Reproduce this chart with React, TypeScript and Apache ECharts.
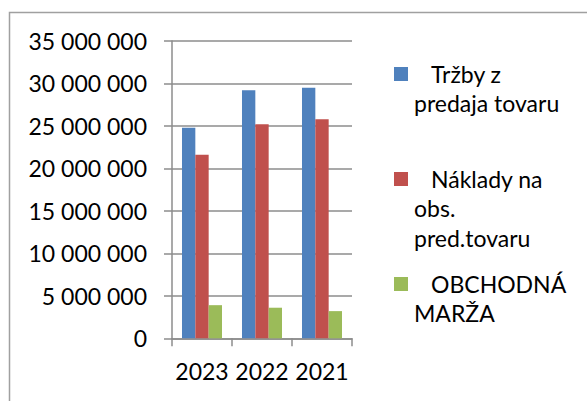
import React, { useEffect, useRef } from 'react';
import * as echarts from 'echarts';

const categories = ['2023', '2022', '2021'];
const seriesNames = ['Tržby z predaja tovaru', 'Náklady na obs. pred.tovaru', 'OBCHODNÁ MARŽA'];
const legendLines = [
  ['Tržby z', 'predaja tovaru'],
  ['Náklady na', 'obs.', 'pred.tovaru'],
  ['OBCHODNÁ', 'MARŽA'],
];
const trzby = [24800000, 29200000, 29500000];
const naklady = [21600000, 25200000, 25800000];
const marza = [3900000, 3600000, 3200000];
const yMin = 0;
const yMax = 35000000;
const yStep = 5000000;

const colors = ['#4F81BD', '#C0504D', '#9BBB59'];
const FONT = 'Lato, "Open Sans", sans-serif';

const fmt = (v: number) => String(v).replace(/\B(?=(\d{3})+(?!\d))/g, ' ');

export default function App() {
  const ref = useRef<HTMLDivElement>(null);
  useEffect(() => {
    if (!ref.current) return;
    const chart = echarts.init(ref.current, null, { renderer: 'svg' });
    const seriesData = [trzby, naklady, marza];

    const legendFirstY = [74, 179, 284];
    const lineH = 29.3;
    const legendEls: any[] = [];
    legendLines.forEach((lines, i) => {
      legendEls.push({
        type: 'rect',
        shape: { x: 394, y: legendFirstY[i] - 7, width: 14, height: 14 },
        style: { fill: colors[i] },
      });
      lines.forEach((ln, j) => {
        legendEls.push({
          type: 'text',
          x: j === 0 ? 431 : 414,
          y: legendFirstY[i] + j * lineH,
          style: {
            text: ln,
            font: `23px ${FONT}`,
            fill: '#000',
            textAlign: 'left',
            textVerticalAlign: 'middle',
            verticalAlign: 'middle',
          },
        });
      });
    });

    chart.setOption({
      animation: false,
      backgroundColor: '#fff',
      grid: { left: 172, top: 41, width: 180, height: 297.3 },
      xAxis: {
        type: 'category',
        data: categories,
        axisLine: { lineStyle: { color: '#8c8c8c', width: 1.5 } },
        axisTick: { show: true, length: 8, lineStyle: { color: '#8c8c8c', width: 1.5 } },
        axisLabel: { color: '#000', fontFamily: FONT, fontSize: 23, margin: 21, interval: 0, hideOverlap: false },
        splitLine: { show: false },
      },
      yAxis: {
        type: 'value',
        min: yMin,
        max: yMax,
        interval: yStep,
        axisLine: { show: true, lineStyle: { color: '#8c8c8c', width: 1.5 } },
        axisTick: { show: true, length: 8, lineStyle: { color: '#8c8c8c', width: 1.5 } },
        axisLabel: { color: '#000', fontFamily: FONT, fontSize: 23, margin: 25, formatter: (v: number) => fmt(v) },
        splitLine: { show: true, lineStyle: { color: '#8c8c8c', width: 1.5 } },
      },
      series: seriesNames.map((name, i) => ({
        name,
        type: 'bar',
        data: seriesData[i],
        barGap: '0%',
        barCategoryGap: '33.3%',
        itemStyle: { color: colors[i] },
      })),
      graphic: [
        {
          type: 'rect',
          shape: { x: 9.5, y: 12.5, width: 700, height: 500 },
          style: { fill: 'none', stroke: '#a0a0a0', lineWidth: 1.5 },
          silent: true,
        },
        ...legendEls,
      ],
    });
    return () => chart.dispose();
  }, []);
  return (
    <div
      ref={ref}
      style={{ position: 'fixed', left: 0, top: 0, width: 587, height: 401, background: '#fff' }}
    />
  );
}
